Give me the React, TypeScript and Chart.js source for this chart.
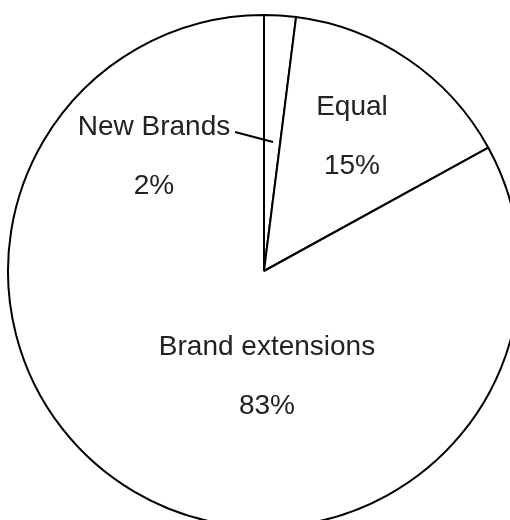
import React, { useEffect, useRef } from "react";
import { Chart, registerables } from "chart.js";

Chart.register(...registerables);

const categories = ["New Brands", "Equal", "Brand extensions"];
const shares = [2, 15, 83];
const percentLabels = ["2%", "15%", "83%"];

// label placement relative to pie centre (px): x centre, first-line baseline
const labelLayout = [
  { dx: -110, dy: -136 },
  { dx: 88, dy: -156 },
  { dx: 3, dy: 84 },
];
const lineGap = 59;
const leader = { x1: -29, y1: -139, x2: 9, y2: -129 };

const labelPlugin = {
  id: "pieLabels",
  afterDatasetsDraw(chart: any) {
    const meta = chart.getDatasetMeta(0);
    const arc = meta.data[0];
    if (!arc) return;
    const cx = arc.x;
    const cy = arc.y;
    const ctx = chart.ctx;
    ctx.save();
    ctx.fillStyle = "#222222";
    ctx.font = '28px "Liberation Sans", Arial, sans-serif';
    ctx.textAlign = "center";
    ctx.textBaseline = "alphabetic";
    categories.forEach((name, i) => {
      const l = labelLayout[i];
      ctx.fillText(name, cx + l.dx, cy + l.dy);
      ctx.fillText(percentLabels[i], cx + l.dx, cy + l.dy + lineGap);
    });
    ctx.strokeStyle = "#000";
    ctx.lineWidth = 2;
    ctx.beginPath();
    ctx.moveTo(cx + leader.x1, cy + leader.y1);
    ctx.lineTo(cx + leader.x2, cy + leader.y2);
    ctx.stroke();
    ctx.restore();
  },
};

export default function App() {
  const ref = useRef<HTMLCanvasElement | null>(null);
  useEffect(() => {
    if (!ref.current) return;
    const chart = new Chart(ref.current, {
      type: "pie",
      data: {
        labels: categories,
        datasets: [
          {
            data: shares,
            backgroundColor: "#ffffff",
            borderColor: "#000000",
            borderWidth: 2,
            clip: false as any,
          },
        ],
      },
      options: {
        responsive: false,
        animation: false,
        devicePixelRatio: 1,
        radius: 256,
        layout: { padding: { left: 18, right: 0, top: 22, bottom: 0 } },
        plugins: {
          legend: { display: false },
          tooltip: { enabled: false },
        },
      } as any,
      plugins: [labelPlugin],
    });
    return () => chart.destroy();
  }, []);
  return (
    <canvas
      ref={ref}
      width={510}
      height={520}
      style={{ position: "absolute", left: 0, top: 0, width: 510, height: 520 }}
    />
  );
}
